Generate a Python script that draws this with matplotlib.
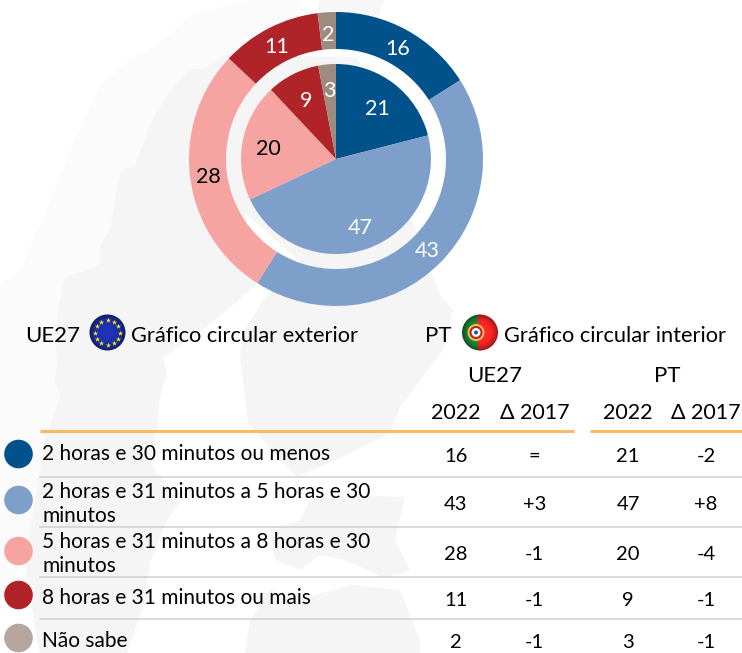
import numpy as np
import matplotlib
matplotlib.use('Agg')
import matplotlib.pyplot as plt
from matplotlib.patches import Circle, Polygon

W, H = 742, 653

categories = ["2 horas e 30 minutos ou menos",
              "2 horas e 31 minutos a 5 horas e 30\nminutos",
              "5 horas e 31 minutos a 8 horas e 30\nminutos",
              "8 horas e 31 minutos ou mais",
              "Não sabe"]
ue27_2022 = [16, 43, 28, 11, 2]
ue27_delta = ["=", "+3", "-1", "-1", "-1"]
pt_2022 = [21, 47, 20, 9, 3]
pt_delta = ["-2", "+8", "-4", "-1", "-1"]

pie_colors = ["#01528a", "#7f9fcb", "#f5a4a2", "#af2329", "#9e8b80"]
legend_colors = ["#01528a", "#7f9fcb", "#f5a4a2", "#af2329", "#b5a69e"]

plt.rcParams['font.family'] = ['Lato', 'DejaVu Sans']

fig = plt.figure(figsize=(W / 100, H / 100), dpi=100)
ax = fig.add_axes([0, 0, 1, 1])


def y(p):
    # picture y (from the top) to axes y
    return H - p


# faint map behind everything: (outline, colour)
norway = [(0, 600), (0, 285), (20, 270), (40, 225), (75, 140), (100, 85), (130, 60), (170, 35),
          (190, 15), (250, 0), (300, 0), (310, 20), (240, 40), (240, 70), (190, 90), (100, 300),
          (60, 500)]
sweden_finland = [(190, 70), (205, 68), (225, 55), (358, 57), (413, 223), (440, 295), (453, 310),
                  (443, 350), (400, 407), (390, 433), (343, 457), (297, 477), (283, 463),
                  (248, 423), (243, 380), (240, 357), (243, 333), (263, 300), (300, 262),
                  (270, 235), (245, 213), (240, 240), (257, 283), (233, 305), (190, 340),
                  (163, 357), (167, 373), (160, 397), (157, 430), (150, 463), (180, 503),
                  (167, 520), (150, 563), (143, 607), (127, 653), (40, 653), (30, 600), (25, 560),
                  (35, 500), (45, 440), (60, 397), (55, 380), (57, 363), (55, 335), (58, 310),
                  (65, 278), (100, 265), (100, 245), (110, 230), (115, 200), (120, 172),
                  (135, 165), (150, 125), (170, 90)]
baltics = [(300, 520), (310, 500), (350, 495), (405, 497), (395, 540), (410, 570), (385, 578),
           (345, 560), (320, 555), (300, 570), (275, 560), (270, 530)]
south = [(270, 590), (300, 600), (350, 585), (400, 590), (420, 640), (420, 653), (245, 653),
         (250, 620)]
north_tip = [(313, 19), (320, 0), (385, 0), (375, 25), (340, 40)]
for shape, col in ((norway, "#fbfbfb"), (sweden_finland, "#f5f5f5"), (baltics, "#f5f5f5"),
                   (south, "#f5f5f5"), (north_tip, "#f7f7f7")):
    ax.add_patch(Polygon([(a, y(b)) for a, b in shape], fc=col, ec="none", zorder=0))

# two pies, drawn clockwise from the top
ax.pie(ue27_2022, colors=pie_colors, startangle=90, counterclock=False, radius=147,
       center=(336, y(159)), wedgeprops=dict(width=37, linewidth=0), frame=False)
ax.pie(pt_2022, colors=pie_colors, startangle=90, counterclock=False, radius=95,
       center=(336, y(159)), wedgeprops=dict(linewidth=0), frame=False)

outer_pos = [(398, 49), (427, 251), (208, 177), (277, 47), (328, 35)]
inner_pos = [(377, 109), (360, 228), (268, 149), (306, 101), (329, 91)]
label_cols = ["white", "white", "black", "white", "white"]
for vals, pos in ((ue27_2022, outer_pos), (pt_2022, inner_pos)):
    for v, p, c in zip(vals, pos, label_cols):
        ax.text(p[0], y(p[1]), str(v), color=c, fontsize=15.5, ha="center", va="center", zorder=5)

# legend row with flags
ax.text(25, y(335.5), "UE27", fontsize=16, va="center", zorder=5)
ax.text(131, y(335.5), "Gráfico circular exterior", fontsize=15.75, va="center", zorder=5)
ax.text(425, y(335.5), "PT", fontsize=16, va="center", zorder=5)
ax.text(504, y(335.5), "Gráfico circular interior", fontsize=15.75, va="center", zorder=5)

xx, yy = np.meshgrid(np.linspace(-1, 1, 80), np.linspace(-1, 1, 80))
shade = np.clip(1.2 - 0.6 * (xx ** 2 + yy ** 2) ** 1.5, 0.35, 1.2)

# EU flag
eu = np.dstack([0.1 * shade, 0.17 * shade, 0.6 * shade])
im = ax.imshow(np.clip(eu, 0, 1), extent=(89, 126, y(351), y(314)), zorder=4, origin="upper")
im.set_clip_path(Circle((107.5, y(332.5)), 18, transform=ax.transData))
ang = np.linspace(0, 2 * np.pi, 12, endpoint=False)
ax.scatter(107.5 + 12.5 * np.cos(ang), y(332.5) + 12.5 * np.sin(ang), marker="*", s=16,
           color="#f4e12a", linewidths=0, zorder=5)

# Portuguese flag
pt = np.zeros((80, 80, 3))
pt[:, :34] = (0.1, 0.5, 0.2)
pt[:, 34:] = (0.9, 0.13, 0.13)
pt = pt * shade[:, :, None]
im = ax.imshow(np.clip(pt, 0, 1), extent=(461.5, 498.5, y(351), y(314)), zorder=4, origin="upper")
im.set_clip_path(Circle((480, y(332.5)), 18, transform=ax.transData))
ax.add_patch(Circle((476, y(332.5)), 8.5, fc="#e2c94f", ec="none", zorder=5))
ax.add_patch(Circle((476, y(332.5)), 5.5, fc="white", ec="#c8202a", lw=1.5, zorder=6))
ax.add_patch(Circle((476, y(332.5)), 2, fc="#2a4fa0", ec="none", zorder=7))

# table
col_x = [456, 534.5, 628, 706]
ax.text(495, y(375.5), "UE27", fontsize=16, ha="center", va="center", zorder=5)
ax.text(667, y(375.5), "PT", fontsize=16, ha="center", va="center", zorder=5)
for cx, t in zip(col_x, ["2022", "Δ 2017", "2022", "Δ 2017"]):
    ax.text(cx, y(413), t, fontsize=15.5, ha="center", va="center", zorder=5)

ax.plot([40, 574], [y(431), y(431)], color="#fbb966", lw=2.2, zorder=3, solid_capstyle="butt")
ax.plot([590, 742], [y(431), y(431)], color="#fbb966", lw=2.2, zorder=3, solid_capstyle="butt")
for ly in [477, 527, 577, 619]:
    ax.plot([40, 742], [y(ly), y(ly)], color="#d5cfcc", lw=1.1, zorder=3)

legend_y = [454, 500, 551, 595, 638]
value_y = [456, 504, 554, 600, 642]
text_y = [454, 504, 554, 598, 641]
for i, cat in enumerate(categories):
    ax.add_patch(Circle((18.5, y(legend_y[i])), 14.3, fc=legend_colors[i], ec="none", zorder=4))
    ax.text(42, y(text_y[i]), cat, fontsize=15, va="center", linespacing=1.2, zorder=5)
    for cx, val in zip(col_x, [ue27_2022[i], ue27_delta[i], pt_2022[i], pt_delta[i]]):
        ax.text(cx, y(value_y[i]), str(val), fontsize=14.5, ha="center", va="center", zorder=5)

ax.set_xlim(0, W)
ax.set_ylim(0, H)
ax.set_aspect('equal')
ax.axis('off')

fig.savefig("out.png", dpi=100)
